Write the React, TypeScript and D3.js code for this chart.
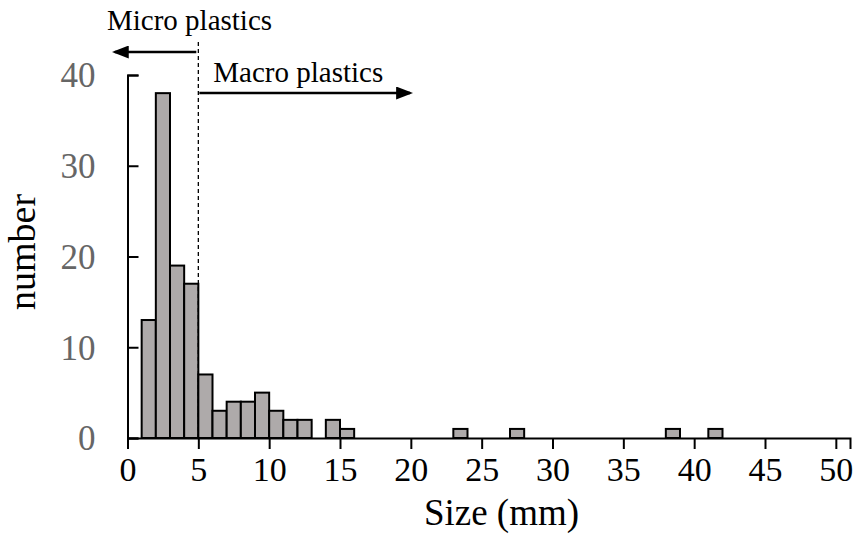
import { useEffect, useMemo, useRef } from "react";
import * as d3 from "d3";

const WIDTH = 864;
const HEIGHT = 539;
const MARGIN = { top: 75, right: 14, bottom: 101, left: 127.5 };

// lower edge of each 1 mm bin and the count in it
const BIN_STARTS = [1, 2, 3, 4, 5, 6, 7, 8, 9, 10, 11, 12, 14, 15, 23, 27, 38, 41];
const COUNTS = [13, 38, 19, 17, 7, 3, 4, 4, 5, 3, 2, 2, 2, 1, 1, 1, 1, 1];
const BIN_WIDTH = 1;

const X_TICKS = [0, 5, 10, 15, 20, 25, 30, 35, 40, 45, 50];
const Y_TICKS = [0, 10, 20, 30, 40];
const THRESHOLD = 5;

const FONT = "'Liberation Serif', 'Times New Roman', serif";

export default function App() {
  const xAxisRef = useRef(null);
  const yAxisRef = useRef(null);
  const boundsWidth = WIDTH - MARGIN.left - MARGIN.right;
  const boundsHeight = HEIGHT - MARGIN.top - MARGIN.bottom;

  const xScale = useMemo(
    () => d3.scaleLinear().domain([0, 51]).range([0, boundsWidth]),
    [boundsWidth]
  );
  const yScale = useMemo(
    () => d3.scaleLinear().domain([0, 40]).range([boundsHeight, 0]),
    [boundsHeight]
  );

  useEffect(() => {
    const xg = d3.select(xAxisRef.current);
    xg.selectAll("*").remove();
    xg.call(d3.axisBottom(xScale).tickValues(X_TICKS).tickSizeOuter(0).tickSize(11).tickPadding(8));
    xg.select(".domain").attr("stroke-width", 2);
    xg.selectAll(".tick line").attr("stroke-width", 2);
    xg.selectAll(".tick text")
      .attr("font-family", FONT)
      .attr("font-size", 34)
      .attr("fill", "#000")
      .attr("dy", "0.71em");

    const yg = d3.select(yAxisRef.current);
    yg.selectAll("*").remove();
    yg.call(d3.axisLeft(yScale).tickValues(Y_TICKS).tickSizeOuter(0).tickSize(-11));
    yg.select(".domain").attr("stroke-width", 2);
    yg.selectAll(".tick line").attr("stroke-width", 2);
    yg.selectAll(".tick text")
      .attr("x", -32)
      .attr("text-anchor", "end")
      .attr("font-family", FONT)
      .attr("font-size", 35)
      .attr("fill", "#666")
      .attr("dy", "0.34em");
  }, [xScale, yScale]);

  const bars = BIN_STARTS.map((start, i) => (
    <rect
      key={i}
      x={xScale(start)}
      y={yScale(COUNTS[i])}
      width={xScale(start + BIN_WIDTH) - xScale(start)}
      height={boundsHeight - yScale(COUNTS[i])}
      fill="#aeaaaa"
      stroke="#000"
      strokeWidth={2}
    />
  ));

  const xT = xScale(THRESHOLD);

  return (
    <svg
      width={WIDTH}
      height={HEIGHT}
      style={{ position: "absolute", left: 0, top: 0, background: "#fff" }}
    >
      <defs>
        <marker
          id="head"
          viewBox="0 0 17 13"
          refX="14"
          refY="6.5"
          markerWidth="17"
          markerHeight="13"
          markerUnits="userSpaceOnUse"
          orient="auto-start-reverse"
        >
          <path d="M0,0 L17,6.5 L0,13 z" fill="#000" />
        </marker>
      </defs>
      <g transform={`translate(${MARGIN.left},${MARGIN.top})`}>
        {bars}
        <line x1={xT} x2={xT} y1={-33} y2={boundsHeight} stroke="#000" strokeWidth={1.3} strokeDasharray="4,3" />
        <line x1={xT - 2} x2={xScale(-0.9)} y1={-23} y2={-23} stroke="#000" strokeWidth={2.5} markerEnd="url(#head)" />
        <line x1={xT + 1} x2={xScale(19.95)} y1={18} y2={18} stroke="#000" strokeWidth={2.5} markerEnd="url(#head)" />
        <text x={xScale(-1.45)} y={-45} fontFamily={FONT} fontSize={29}>Micro plastics</text>
        <text x={xT + 15} y={7} fontFamily={FONT} fontSize={29}>Macro plastics</text>
        <g ref={xAxisRef} transform={`translate(0,${boundsHeight})`} />
        <g ref={yAxisRef} />
        <text
          x={xScale(26.4)}
          y={boundsHeight + 87}
          textAnchor="middle"
          fontFamily={FONT}
          fontSize={37}
        >
          Size (mm)
        </text>
        <text
          transform={`translate(${-93},${yScale(20.5)}) rotate(-90)`}
          textAnchor="middle"
          fontFamily={FONT}
          fontSize={38}
        >
          number
        </text>
      </g>
    </svg>
  );
}
